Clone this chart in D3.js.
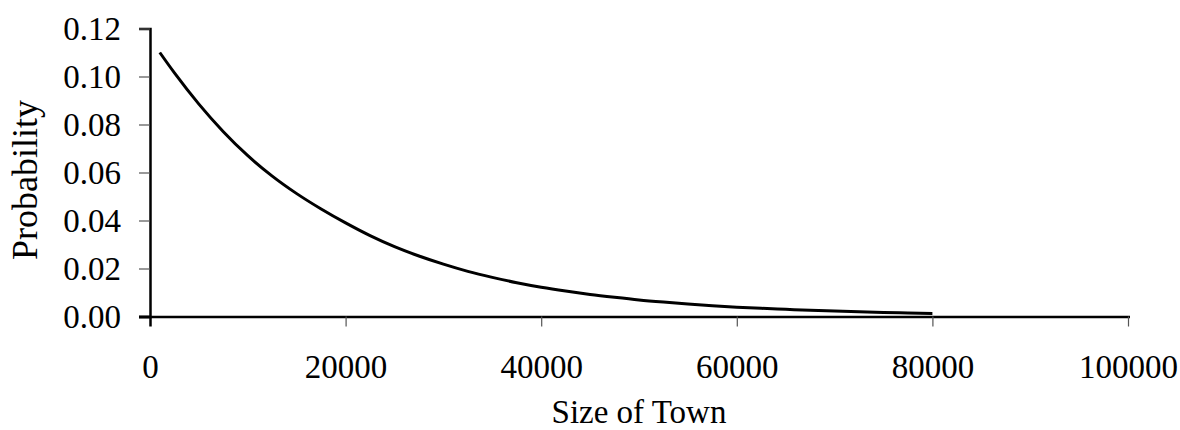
<!DOCTYPE html>
<html>
<head>
<meta charset="utf-8">
<script src="https://cdn.jsdelivr.net/npm/d3@7"></script>
<style>
  html, body { margin: 0; padding: 0; background: #fff; }
  svg { display: block; }
  text { font-family: "Liberation Serif", "Times New Roman", serif; fill: #000; }
</style>
</head>
<body>
<svg id="chart" width="1180" height="430"></svg>
<script>
// ---- data ----
const townSize = [1000, 2500, 5000, 7500, 10000, 12500, 15000, 17500, 20000, 22500,
  25000, 27500, 30000, 32500, 35000, 37500, 40000, 42500, 45000, 47500,
  50000, 52500, 55000, 57500, 60000, 62500, 65000, 67500, 70000, 72500,
  75000, 77500, 80000];
const probability = [0.110, 0.1015, 0.0885, 0.0770, 0.0670, 0.0585, 0.0512, 0.0448, 0.0390, 0.0337,
  0.0291, 0.0252, 0.0218, 0.0188, 0.0163, 0.0141, 0.0122, 0.0106, 0.0092, 0.0080,
  0.0069, 0.0060, 0.0052, 0.0045, 0.0039, 0.0034, 0.0030, 0.0026, 0.0023, 0.0020,
  0.0017, 0.0015, 0.0013];
const xTicks = [0, 20000, 40000, 60000, 80000, 100000];
const yTicks = [0, 0.02, 0.04, 0.06, 0.08, 0.10, 0.12];
const xTitle = "Size of Town";
const yTitle = "Probability";

const svg = d3.select("#chart");
const x = d3.scaleLinear().domain([0, 100000]).range([150, 1128]);
const y = d3.scaleLinear().domain([0, 0.12]).range([316.5, 28.5]);
const FS = 33;

// y axis
const gy = svg.append("g").attr("transform", `translate(${x(0)},0)`)
  .call(d3.axisLeft(y).tickValues(yTicks).tickFormat(d3.format(".2f")).tickSizeOuter(0).tickSize(11).tickPadding(18));
gy.select(".domain").attr("stroke", "#000").attr("stroke-width", 2.5);
gy.selectAll(".tick line").attr("stroke", "#555").attr("stroke-width", 1.2);
gy.selectAll(".tick text").style("font-size", FS + "px").style("font-family", '"Liberation Serif", serif').attr("fill", "#000");

// x axis
const gx = svg.append("g").attr("transform", `translate(0,${y(0)})`)
  .call(d3.axisBottom(x).tickValues(xTicks).tickFormat(d3.format("d")).tickSizeOuter(0).tickSize(10).tickPadding(28));
gx.select(".domain").attr("stroke", "#000").attr("stroke-width", 2.5)
  .attr("d", `M${x(0) - 11},0.5H${x(100000) + 2}`);
gx.selectAll(".tick line").attr("stroke", "#555").attr("stroke-width", 1.2);
gx.selectAll(".tick line").filter(d => d === 0).attr("stroke", "#000").attr("stroke-width", 2.5);
gy.selectAll(".tick line").filter(d => d === 0).attr("stroke", "#000").attr("stroke-width", 2.5);
gx.selectAll(".tick text").style("font-size", FS + "px").style("font-family", '"Liberation Serif", serif').attr("fill", "#000");

// titles
svg.append("text").attr("x", (x(0) + x(100000)) / 2).attr("y", 423)
  .attr("text-anchor", "middle").style("font-size", FS + "px").text(xTitle);
svg.append("text").attr("transform", `translate(37,180) rotate(-90)`)
  .attr("text-anchor", "middle").style("font-size", "36px").text(yTitle);

// curve
const line = d3.line().x((d, i) => x(townSize[i])).y(d => y(d)).curve(d3.curveMonotoneX);
svg.append("path").datum(probability)
  .attr("d", line).attr("fill", "none").attr("stroke", "#000")
  .attr("stroke-width", 3).attr("stroke-linejoin", "round");
</script>
</body>
</html>
